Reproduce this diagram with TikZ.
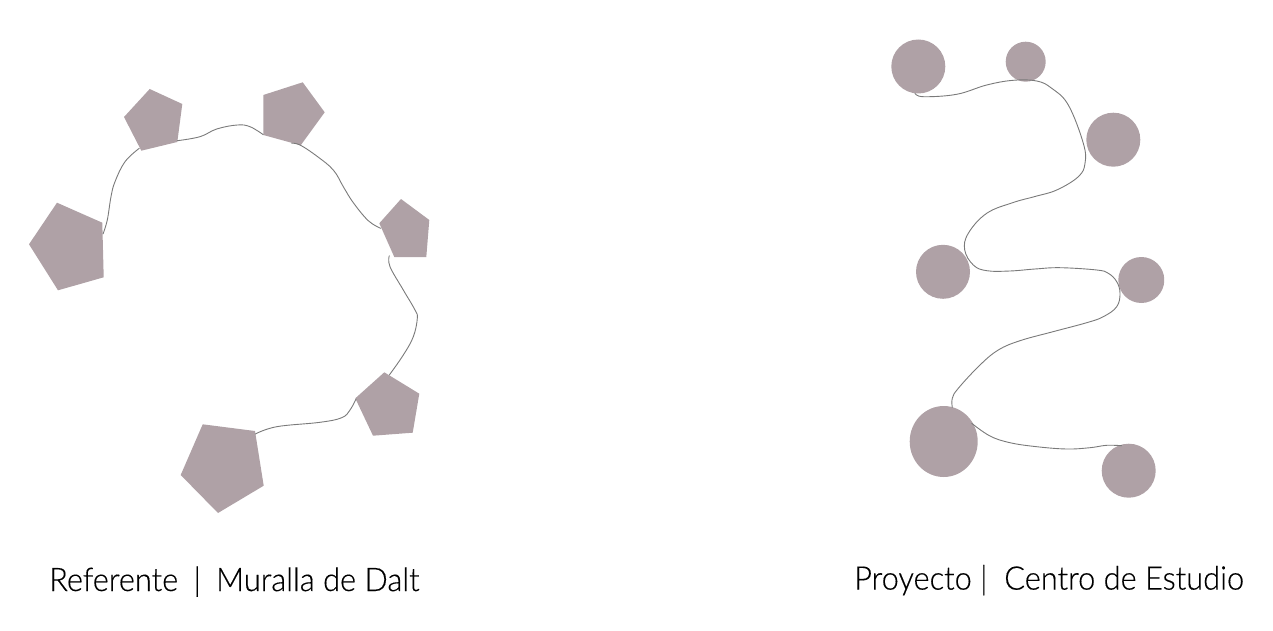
\documentclass[tikz,border=0pt]{standalone}
\usepackage{fontspec}
\usetikzlibrary{shapes.geometric}
\newfontfamily\capfont[FakeStretch=0.947,FakeBold=0.35]{Lato Light}
\definecolor{mauve}{HTML}{AFA1A6}
\definecolor{wire}{HTML}{7A7A7A}
\tikzset{
  shapefill/.style={fill=mauve,draw=none},
  dot/.style={circle,fill=mauve,draw=none,inner sep=0pt,minimum size=#1},
  wireline/.style={draw=wire,line width=0.9pt,line cap=round},
  caption/.style={font=\capfont\fontsize{32.5}{38}\selectfont,color=black,anchor=base west,inner sep=0pt}
}
\begin{document}
\begin{tikzpicture}[x=1pt,y=-1pt]
\useasboundingbox (0,0) rectangle (1273,631);
% pentagons
\fill[shapefill] (57,202.7)--(102.3,222.7)--(103.7,277.3)--(58,290.3)--(29,244.3)--cycle;
\fill[shapefill] (149.7,89)--(182.3,104)--(177.3,142)--(141.3,150.7)--(124,117)--cycle;
\fill[shapefill] (263.3,95)--(302.7,82.3)--(324.7,112.3)--(300.7,145.3)--(263.3,135)--cycle;
\fill[shapefill] (401,199)--(429.3,220)--(426.3,257)--(394.3,257)--(379.3,223.3)--cycle;
\fill[shapefill] (384.3,372.3)--(419.3,393.7)--(412.7,432.7)--(373,435.7)--(355.3,398.3)--cycle;
\fill[shapefill] (202.7,424.3)--(255,431)--(263.7,485.7)--(218,513)--(180.7,475)--cycle;
% circles
\node[dot=54pt] (c1) at (918.3,66.5) {};
\node[dot=40pt] (c2) at (1025.7,61.7) {};
\node[dot=54pt] (c3) at (1113.3,139.7) {};
\node[dot=54pt] (c4) at (943,271.8) {};
\begin{scope}
\clip (1100,240) rectangle (1164,320);
\node[dot=46pt] (c5) at (1141.3,280) {};
\end{scope}
\node[ellipse,fill=mauve,draw=none,inner sep=0pt,minimum width=68pt,minimum height=71pt] (c6) at (943.7,441.5) {};
\node[dot=54pt] (c7) at (1128.7,470.7) {};
% left wall
\draw[wireline] plot[smooth,tension=0.65] coordinates {(103,234) (107.3,220) (111,196.7) (115,181.7) (125,161.7) (139.3,148.3)};
\draw[wireline] plot[smooth,tension=0.65] coordinates {(177.3,140.7) (200,136.7) (216.7,129) (237.3,125) (250,126.7) (263.3,134.7)};
\draw[wireline] plot[smooth,tension=0.65] coordinates {(291.7,143.3) (300,145) (316.7,156) (333.3,170) (343.3,186.7) (353.3,202.7) (368.3,220.7) (380.7,228.3)};
\draw[wireline] plot[smooth,tension=0.65] coordinates {(389.3,255.7) (390,266.7) (403.3,290) (415,310) (417.3,318.3) (413.3,336.7) (403.3,355) (389.3,375)};
\draw[wireline] plot[smooth,tension=0.65] coordinates {(356,399) (350,410) (341.7,417.7) (320,422.3) (276.7,426.7) (255.3,434)};
% right path
\draw[wireline] plot[smooth,tension=0.65] coordinates {(915,93.3) (923.3,96.7) (956.7,94.3) (986.7,85) (1013.3,80.3) (1036.7,81) (1051.7,88.3) (1068.3,105) (1083.3,143.3) (1085,163.3) (1078.3,176.7) (1056.7,190) (1035,196.5) (1013.3,202.5) (986.7,213.3) (968.3,233.3) (964.7,250) (973.3,265) (986.7,270.7) (1010,271) (1035,269) (1060,267.7) (1096.7,270) (1108.3,273.3) (1116.7,281.7) (1120,293.3) (1116.7,306.7) (1103.3,316.7) (1086.7,322.7) (1053,331.7) (1020,340.7) (998.3,350) (980,365) (958.3,388.3) (952.3,398.3) (952.3,407.3)};
\draw[wireline] plot[smooth,tension=0.65] coordinates {(971.7,423.3) (990,436) (1010,442.7) (1036.7,446.7) (1066.7,449) (1090,447.7) (1106.7,445.3) (1121.7,445.7)};
% captions
\node[caption] (t1) at (49,591) {Referente\hspace{0.47em}|\hspace{0.47em}Muralla de Dalt};
\node[caption] (t2) at (854,589.6) {Proyecto |\ \ Centro de Estudio};
\end{tikzpicture}
\end{document}
